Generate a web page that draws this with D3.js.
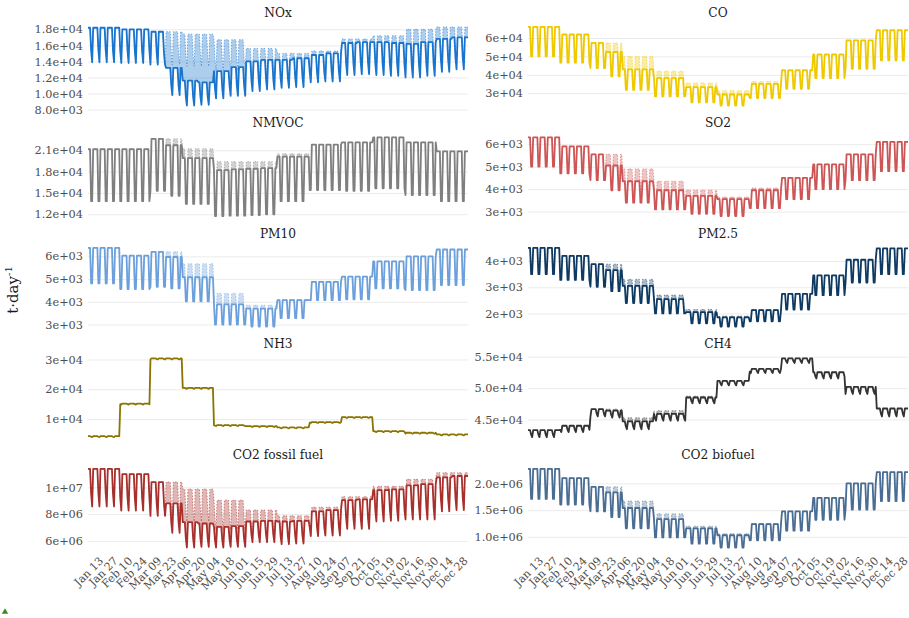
<!DOCTYPE html>
<html>
<head>
<meta charset="utf-8">
<script src="https://d3js.org/d3.v7.min.js"></script>
<style>
  body { margin: 0; background: #fff; }
  text { font-family: "DejaVu Serif", Georgia, serif; }
  .yaxis .domain, .xaxis .domain { display: none; }
  .yaxis line { stroke: #ebebeb; }
  .yaxis text { fill: #4d4d4d; font-size: 11.3px; }
  .xaxis text { fill: #4d4d4d; font-size: 11px; }
  .strip { fill: #1a1a1a; font-size: 12.2px; }
</style>
</head>
<body>
<svg id="chart" width="909" height="618"></svg>
<script>
// monthly baseline levels (weekday high / weekend low), actual levels per half month
const noxBaseHi = [18200, 18000, 17700, 17400, 16700, 15600, 15000, 15300, 16800, 17200, 18000, 18300];
const noxBaseLo = [13900, 13800, 13600, 13400, 12900, 12100, 11600, 11800, 12900, 13200, 13800, 14000];
const noxActHi = [18200, 18200, 18000, 18000, 17700, 13200, 11600, 11400, 12800, 13300, 14000, 14200,
                  14200, 14400, 14800, 15000, 16300, 16400, 16400, 16300, 16200, 16400, 16800, 17000];
const noxActLo = [13900, 13900, 13800, 13800, 13600, 9800, 8500, 8600, 9400, 9700, 10300, 10500,
                  10700, 10800, 11400, 11500, 12300, 12400, 12300, 12200, 12000, 12200, 12700, 13000];

const coBaseHi = [66000, 61900, 57300, 50000, 42000, 35600, 31400, 36400, 42900, 51500, 58700, 64200];
const coBaseLo = [50000, 46600, 43600, 38000, 32000, 27000, 24000, 28000, 32800, 38800, 43300, 47800];
const coActHi = [66000, 66000, 61900, 61900, 57300, 52400, 42900, 42900, 38200, 38200, 33300, 33300,
                 29300, 29300, 35100, 35100, 42400, 42400, 51000, 51000, 58700, 58700, 64200, 64200];
const coActLo = [50000, 50000, 46600, 46600, 43600, 39100, 31800, 31800, 28300, 28300, 25000, 25000,
                 23300, 23300, 27400, 27400, 32400, 32400, 38200, 38200, 43300, 43300, 47800, 47800];

const nmvocBaseHi = [21150, 21150, 22600, 21200, 19400, 19400, 20500, 21800, 22100, 22800, 22100, 20850];
const nmvocBaseLo = [13850, 13850, 15300, 14200, 13000, 13000, 14100, 15400, 15300, 15650, 14700, 13850];
const nmvocActHi = [21150, 21150, 21150, 21150, 22600, 21700, 19900, 19900, 18200, 18300, 18400, 18500,
                    20100, 20100, 21800, 21800, 22100, 22100, 22800, 22800, 22100, 22100, 20850, 20850];
const nmvocActLo = [13850, 13850, 13850, 13850, 15300, 14600, 13450, 13450, 11750, 11800, 11900, 12000,
                    13850, 13850, 15400, 15400, 15300, 15300, 15650, 15650, 14700, 14700, 13850, 13850];

const so2BaseHi = [6300, 5900, 5550, 4900, 4350, 3950, 3650, 4050, 4500, 5100, 5550, 6100];
const so2BaseLo = [5000, 4700, 4400, 3900, 3450, 3100, 2900, 3200, 3550, 4000, 4400, 4800];
const so2ActHi = [6300, 6300, 5900, 5900, 5550, 5050, 4350, 4350, 3950, 3950, 3700, 3700,
                  3550, 3550, 3950, 3950, 4500, 4500, 5100, 5100, 5550, 5550, 6100, 6100];
const so2ActLo = [5000, 5000, 4700, 4700, 4400, 3950, 3400, 3400, 3100, 3100, 2900, 2900,
                  2800, 2800, 3150, 3150, 3550, 3550, 4000, 4000, 4400, 4400, 4800, 4800];

const pm10BaseHi = [6370, 6030, 6200, 5670, 4370, 3850, 4100, 4900, 5110, 5780, 6000, 6300];
const pm10BaseLo = [4810, 4560, 4660, 4300, 3350, 2950, 3300, 4080, 4110, 4590, 4520, 4740];
const pm10ActHi = [6370, 6370, 6030, 6030, 6200, 5970, 5080, 5080, 3890, 3890, 3700, 3700,
                   4070, 4070, 4880, 4880, 5110, 5110, 5780, 5780, 6000, 6000, 6300, 6300];
const pm10ActLo = [4810, 4810, 4560, 4560, 4660, 4590, 4020, 4020, 3000, 3000, 2910, 2910,
                   3280, 3280, 4070, 4070, 4110, 4110, 4590, 4590, 4520, 4520, 4740, 4740];

const pm25BaseHi = [4500, 4200, 3880, 3300, 2700, 2150, 1900, 2150, 2750, 3450, 4050, 4480];
const pm25BaseLo = [3500, 3280, 3020, 2580, 2120, 1700, 1520, 1700, 2150, 2700, 3180, 3500];
const pm25ActHi = [4500, 4500, 4200, 4200, 3880, 3650, 3050, 3050, 2550, 2550, 2050, 2050,
                   1850, 1850, 2130, 2130, 2750, 2750, 3450, 3450, 4050, 4050, 4480, 4480];
const pm25ActLo = [3500, 3500, 3280, 3280, 3020, 2850, 2400, 2400, 2000, 2000, 1620, 1620,
                   1500, 1500, 1700, 1700, 2150, 2150, 2700, 2700, 3180, 3180, 3500, 3500];

const nh3BaseHi = [4300, 15200, 30350, 20480, 8010, 7680, 7230, 9030, 10710, 5990, 5450, 4870];
const nh3BaseLo = [4000, 14900, 30050, 20180, 7710, 7380, 6930, 8730, 10410, 5690, 5150, 4570];
const nh3ActHi = [4300, 4300, 15200, 15200, 30350, 30350, 20480, 20480, 8010, 8010, 7680, 7680,
                  7230, 7230, 9030, 9030, 10710, 10710, 5990, 5990, 5450, 5450, 4870, 4870];
const nh3ActLo = [4000, 4000, 14900, 14900, 30050, 30050, 20180, 20180, 7710, 7710, 7380, 7380,
                  6930, 6930, 8730, 8730, 10410, 10410, 5690, 5690, 5150, 5150, 4570, 4570];

const ch4BaseHi = [43300, 44000, 46650, 45260, 46400, 48700, 51140, 53070, 54720, 52520, 50200, 46750];
const ch4BaseLo = [42200, 43000, 45500, 44000, 45300, 47700, 50430, 52400, 54000, 51530, 49060, 45480];
const ch4ActHi = [43300, 43300, 44000, 44000, 46650, 46400, 44700, 44700, 45900, 45900, 48500, 48500,
                  51140, 51140, 53070, 53070, 54720, 54720, 52520, 52520, 50200, 50200, 46750, 46750];
const ch4ActLo = [42200, 42200, 43000, 43000, 45500, 45300, 43450, 43450, 44800, 44800, 47580, 47580,
                  50430, 50430, 52400, 52400, 54000, 54000, 51530, 51530, 49060, 49060, 45480, 45480];

const co2ffBaseHi = [11380000, 10990000, 10400000, 9870000, 9040000, 8310000, 7870000, 8520000, 9300000, 10080000, 10600000, 11100000];
const co2ffBaseLo = [8570000, 8260000, 7870000, 7450000, 6850000, 6300000, 5950000, 6450000, 7050000, 7600000, 8000000, 8400000];
const co2ffActHi = [11380000, 11380000, 10990000, 10990000, 10400000, 8800000, 7400000, 7300000, 7050000, 7100000, 7450000, 7500000,
                    7450000, 7500000, 8200000, 8300000, 9050000, 9100000, 9800000, 9850000, 10150000, 10250000, 10750000, 10850000];
const co2ffActLo = [8570000, 8570000, 8260000, 8260000, 7870000, 6600000, 5500000, 5550000, 5500000, 5550000, 5900000, 5900000,
                    5750000, 5800000, 6350000, 6400000, 6900000, 6900000, 7450000, 7500000, 7600000, 7600000, 8200000, 8300000];

const co2bioBaseHi = [2270000, 2100000, 1935000, 1670000, 1430000, 1200000, 1060000, 1250000, 1480000, 1730000, 2000000, 2210000];
const co2bioBaseLo = [1710000, 1605000, 1477000, 1270000, 1080000, 900000, 820000, 940000, 1115000, 1320000, 1510000, 1670000];
const co2bioActHi = [2270000, 2270000, 2100000, 2100000, 1935000, 1830000, 1540000, 1540000, 1330000, 1330000, 1160000, 1160000,
                     1030000, 1030000, 1240000, 1240000, 1477000, 1477000, 1730000, 1730000, 2000000, 2000000, 2210000, 2210000];
const co2bioActLo = [1710000, 1710000, 1605000, 1605000, 1477000, 1370000, 1160000, 1160000, 990000, 990000, 874000, 874000,
                     800000, 800000, 937000, 937000, 1115000, 1115000, 1320000, 1320000, 1510000, 1510000, 1670000, 1670000];

// day-of-week profile, Mon..Sun (1 = weekday level, 0 = weekend level)
const weekSquare = [1, 1, 1, 1, 1, 0, 0];
const weekSharp = [1, 1, 1, 1, 1, 0.35, 0];

const noxTicks = [8000, 10000, 12000, 14000, 16000, 18000];
const noxLabels = ["8.0e+03", "1.0e+04", "1.2e+04", "1.4e+04", "1.6e+04", "1.8e+04"];
const coTicks = [30000, 40000, 50000, 60000];
const coLabels = ["3e+04", "4e+04", "5e+04", "6e+04"];
const nmvocTicks = [12000, 15000, 18000, 21000];
const nmvocLabels = ["1.2e+04", "1.5e+04", "1.8e+04", "2.1e+04"];
const so2Ticks = [3000, 4000, 5000, 6000];
const so2Labels = ["3e+03", "4e+03", "5e+03", "6e+03"];
const pm10Ticks = [3000, 4000, 5000, 6000];
const pm10Labels = ["3e+03", "4e+03", "5e+03", "6e+03"];
const pm25Ticks = [2000, 3000, 4000];
const pm25Labels = ["2e+03", "3e+03", "4e+03"];
const nh3Ticks = [10000, 20000, 30000];
const nh3Labels = ["1e+04", "2e+04", "3e+04"];
const ch4Ticks = [45000, 50000, 55000];
const ch4Labels = ["4.5e+04", "5.0e+04", "5.5e+04"];
const co2ffTicks = [6000000, 8000000, 10000000];
const co2ffLabels = ["6e+06", "8e+06", "1e+07"];
const co2bioTicks = [1000000, 1500000, 2000000];
const co2bioLabels = ["1.0e+06", "1.5e+06", "2.0e+06"];

const xTickDays = ["2020-01-13", "2020-01-27", "2020-02-10", "2020-02-24", "2020-03-09", "2020-03-23",
  "2020-04-06", "2020-04-20", "2020-05-04", "2020-05-18", "2020-06-01", "2020-06-15", "2020-06-29",
  "2020-07-13", "2020-07-27", "2020-08-10", "2020-08-24", "2020-09-07", "2020-09-21", "2020-10-05",
  "2020-10-19", "2020-11-02", "2020-11-16", "2020-11-30", "2020-12-14", "2020-12-28"];

const panels = [
  { name: "NOx", color: "#1874CD", bHi: noxBaseHi, bLo: noxBaseLo, aHi: noxActHi, aLo: noxActLo, week: weekSharp, ticks: noxTicks, labels: noxLabels },
  { name: "CO", color: "#EEC900", bHi: coBaseHi, bLo: coBaseLo, aHi: coActHi, aLo: coActLo, week: weekSquare, ticks: coTicks, labels: coLabels },
  { name: "NMVOC", color: "#7F7F7F", bHi: nmvocBaseHi, bLo: nmvocBaseLo, aHi: nmvocActHi, aLo: nmvocActLo, week: weekSquare, ticks: nmvocTicks, labels: nmvocLabels },
  { name: "SO2", color: "#CD5555", bHi: so2BaseHi, bLo: so2BaseLo, aHi: so2ActHi, aLo: so2ActLo, week: weekSquare, ticks: so2Ticks, labels: so2Labels },
  { name: "PM10", color: "#6CA0DC", bHi: pm10BaseHi, bLo: pm10BaseLo, aHi: pm10ActHi, aLo: pm10ActLo, week: weekSquare, ticks: pm10Ticks, labels: pm10Labels },
  { name: "PM2.5", color: "#0E3A62", bHi: pm25BaseHi, bLo: pm25BaseLo, aHi: pm25ActHi, aLo: pm25ActLo, week: weekSquare, ticks: pm25Ticks, labels: pm25Labels },
  { name: "NH3", color: "#8B7500", bHi: nh3BaseHi, bLo: nh3BaseLo, aHi: nh3ActHi, aLo: nh3ActLo, week: weekSharp, ticks: nh3Ticks, labels: nh3Labels },
  { name: "CH4", color: "#333333", bHi: ch4BaseHi, bLo: ch4BaseLo, aHi: ch4ActHi, aLo: ch4ActLo, week: weekSharp, ticks: ch4Ticks, labels: ch4Labels },
  { name: "CO2 fossil fuel", color: "#A8302C", bHi: co2ffBaseHi, bLo: co2ffBaseLo, aHi: co2ffActHi, aLo: co2ffActLo, week: weekSharp, ticks: co2ffTicks, labels: co2ffLabels },
  { name: "CO2 biofuel", color: "#4A6D94", bHi: co2bioBaseHi, bLo: co2bioBaseLo, aHi: co2bioActHi, aLo: co2bioActLo, week: weekSquare, ticks: co2bioTicks, labels: co2bioLabels }
];

const svg = d3.select("#chart");
const colX = [88, 528];
const panelW = 380;
const panelH = 86.5;
const rowTop = 23;
const rowStep = 110.5;

const days = d3.timeDay.range(new Date(2020, 0, 1), new Date(2021, 0, 1));
const x = d3.scaleTime()
  .domain([days[0], days[days.length - 1]])
  .range([0, panelW]);
const parseDay = d3.timeParse("%Y-%m-%d");

panels.forEach((p, i) => {
  const col = i % 2, row = Math.floor(i / 2);
  const g = svg.append("g")
    .attr("transform", `translate(${colX[col]},${rowTop + row * rowStep})`);

  const series = days.map(d => {
    const m = d.getMonth();
    const h = m * 2 + (d.getDate() > 15 ? 1 : 0);
    const w = p.week[(d.getDay() + 6) % 7];
    return {
      date: d,
      base: p.bLo[m] + w * (p.bHi[m] - p.bLo[m]),
      act: p.aLo[h] + w * (p.aHi[h] - p.aLo[h])
    };
  });

  const lo = d3.min(series, s => Math.min(s.base, s.act));
  const hi = d3.max(series, s => Math.max(s.base, s.act));
  const pad = (hi - lo) * 0.05;
  const y = d3.scaleLinear().domain([lo - pad, hi + pad]).range([panelH, 0]);

  g.append("g")
    .attr("class", "yaxis")
    .call(d3.axisLeft(y).tickValues(p.ticks).tickFormat((d, k) => p.labels[k])
      .tickSize(-panelW).tickPadding(5));

  g.append("path")
    .datum(series)
    .attr("fill", p.color)
    .attr("fill-opacity", 0.35)
    .attr("d", d3.area().x(d => x(d.date)).y0(d => y(d.act)).y1(d => y(d.base)));

  g.append("path")
    .datum(series)
    .attr("fill", "none")
    .attr("stroke", p.color)
    .attr("stroke-opacity", 0.55)
    .attr("stroke-width", 1)
    .attr("stroke-dasharray", "1.5,1.5")
    .attr("d", d3.line().x(d => x(d.date)).y(d => y(d.base)));

  g.append("path")
    .datum(series)
    .attr("fill", "none")
    .attr("stroke", p.color)
    .attr("stroke-width", 1.8)
    .attr("stroke-linejoin", "round")
    .attr("d", d3.line().x(d => x(d.date)).y(d => y(d.act)));

  g.append("text")
    .attr("class", "strip")
    .attr("x", panelW / 2)
    .attr("y", -6.5)
    .attr("text-anchor", "middle")
    .text(p.name);

  if (row === 4) {
    const ax = g.append("g")
      .attr("class", "xaxis")
      .attr("transform", `translate(0,${panelH})`)
      .call(d3.axisBottom(x).tickValues(xTickDays.map(parseDay))
        .tickFormat(d3.timeFormat("%b %d")).tickSize(0));
    ax.selectAll("text")
      .attr("x", 3).attr("y", 10).attr("dy", 0)
      .attr("text-anchor", "end")
      .attr("transform", "rotate(-45,3,10)");
  }
});

const ylab = svg.append("text")
  .attr("transform", "translate(18,290) rotate(-90)")
  .attr("text-anchor", "middle")
  .attr("fill", "#1a1a1a")
  .style("font-size", "15px");
ylab.append("tspan").text("t·day");
ylab.append("tspan").attr("dy", -6).style("font-size", "10px").text("-1");

svg.append("path")
  .attr("transform", "translate(5,612)")
  .attr("fill", "#3d8b1f")
  .attr("d", d3.symbol(d3.symbolTriangle, 18)());
</script>
</body>
</html>
